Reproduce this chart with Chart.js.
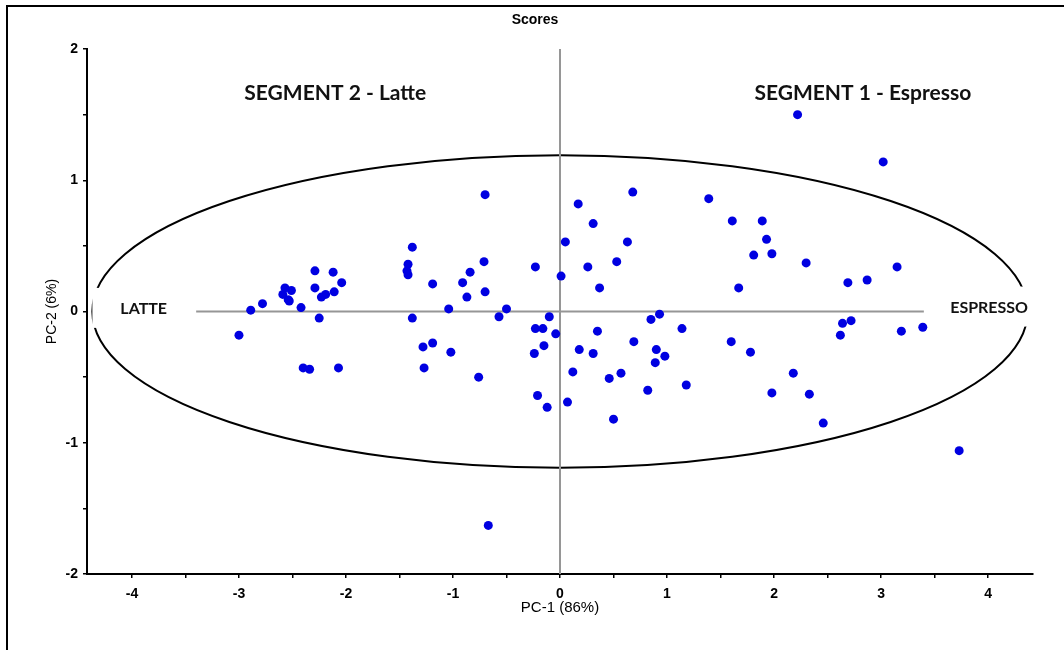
<!DOCTYPE html>
<html>
<head>
<meta charset="utf-8">
<title>Scores</title>
<script src="https://cdn.jsdelivr.net/npm/chart.js@4.4.1/dist/chart.umd.min.js"></script>
<style>
  html, body { margin: 0; padding: 0; background: #fff; }
  #wrap { position: relative; width: 1064px; height: 650px; }
</style>
</head>
<body>
<div id="wrap"><canvas id="chart" width="1064" height="650"></canvas></div>
<script>
// PCA scores, one entry per sample
const pcOne = [
  -3.00, -2.89, -2.78, -2.57, -2.51, -2.59, -2.54, -2.53, -2.42, -2.29, -2.29, -2.12, -2.04, -2.23, -2.19, -2.11, -2.25, -2.40, -2.34, -2.07,
  -1.38, -1.42, -1.43, -1.42, -1.38, -1.19, -1.28, -1.19, -1.27,
  -0.70, -0.91, -0.84, -0.87, -0.71, -0.70, -1.04, -0.50, -0.57, -0.23,
  0.01, 0.05, 0.17, 0.31, 0.68, 0.63, 0.26, 0.53, 0.37, 1.39, 1.61, 1.67,
  -0.10, -0.23, -0.16, -0.04, -0.15, -0.24, -1.02, -0.76,
  0.35, 0.18, 0.31, 0.69, 0.85, 0.93, 1.14, 0.90, 0.98, 0.89, 1.60,
  0.12, 0.46, 0.57, -0.21, -0.12, 0.07, 0.82, 1.18, 0.50, -0.67,
  2.22, 3.02, 1.89, 1.93, 1.81, 1.98, 2.30, 3.15, 2.69, 2.87, 2.64, 2.72, 2.62, 3.19, 3.39, 1.78, 2.18, 1.98, 2.33, 2.46, 3.73
];
const pcTwo = [
  -0.18, 0.01, 0.06, 0.18, 0.16, 0.13, 0.09, 0.08, 0.03, 0.31, 0.18, 0.30, 0.22, 0.11, 0.13, 0.15, -0.05, -0.43, -0.44, -0.43,
  0.49, 0.36, 0.31, 0.28, -0.05, 0.21, -0.27, -0.24, -0.43,
  0.89, 0.22, 0.30, 0.11, 0.38, 0.15, 0.02, 0.02, -0.04, 0.34,
  0.27, 0.53, 0.82, 0.67, 0.91, 0.53, 0.34, 0.38, 0.18, 0.86, 0.69, 0.18,
  -0.04, -0.13, -0.13, -0.17, -0.26, -0.32, -0.31, -0.50,
  -0.15, -0.29, -0.32, -0.23, -0.06, -0.02, -0.13, -0.29, -0.34, -0.39, -0.23,
  -0.46, -0.51, -0.47, -0.64, -0.73, -0.69, -0.60, -0.56, -0.82, -1.63,
  1.50, 1.14, 0.69, 0.55, 0.43, 0.44, 0.37, 0.34, 0.22, 0.24, -0.09, -0.07, -0.18, -0.15, -0.12, -0.31, -0.47, -0.62, -0.63, -0.85, -1.06
];

// axes
const xTicks = [-4, -3.5, -3, -2.5, -2, -1.5, -1, -0.5, 0, 0.5, 1, 1.5, 2, 2.5, 3, 3.5, 4];
const yTicks = [-2, -1.5, -1, -0.5, 0, 0.5, 1, 1.5, 2];
const xRange = [-4.42, 4.42];
const yRange = [-2, 2];

// reference lines and the segment ellipse (semi-axes in score units)
const hLineX = [-3.4, 3.4];
const vLineY = [-2, 2];
const ellipseAxes = [4.37, 1.19];

const chartTitle = 'Scores';
const segmentNames = ['SEGMENT 2 - Latte', 'SEGMENT 1 - Espresso'];
const poleNames = ['LATTE', 'ESPRESSO'];

const scorePoints = pcOne.map((v, i) => ({ x: v, y: pcTwo[i] }));

// ellipse, pole labels, segment labels, title and outer frame
const overlayPlugin = {
    id: 'overlay',
    beforeDatasetsDraw(chart) {
        const { ctx } = chart;
        const xs = chart.scales.x, ys = chart.scales.y;
        const cx = xs.getPixelForValue(0);
        const cy = ys.getPixelForValue(0);
        const rx = xs.getPixelForValue(ellipseAxes[0]) - cx;
        const ry = cy - ys.getPixelForValue(ellipseAxes[1]);

        ctx.save();
        ctx.beginPath();
        ctx.ellipse(cx, cy, rx, ry, 0, 0, Math.PI * 2);
        ctx.lineWidth = 2;
        ctx.strokeStyle = '#000';
        ctx.stroke();

        // the pole labels sit on white boxes that break the ellipse
        ctx.font = 'bold 16px Lato, "Liberation Sans", sans-serif';
        ctx.textAlign = 'center';
        ctx.textBaseline = 'middle';
        const poles = [[-3.89, 0.02, poleNames[0]], [4.01, 0.03, poleNames[1]]];
        poles.forEach(([px, py, txt]) => {
            const x = xs.getPixelForValue(px), y = ys.getPixelForValue(py);
            const w = ctx.measureText(txt).width;
            ctx.fillStyle = '#fff';
            ctx.fillRect(x - w / 2 - 28, y - 21, w + 56, 40);
            ctx.fillStyle = '#111';
            ctx.fillText(txt, x, y);
        });
        ctx.restore();
    },
    afterDraw(chart) {
        const { ctx } = chart;
        const xs = chart.scales.x, ys = chart.scales.y;
        ctx.save();

        ctx.font = 'bold 21px Lato, "Liberation Sans", sans-serif';
        ctx.fillStyle = '#111';
        ctx.textAlign = 'center';
        ctx.textBaseline = 'middle';
        ctx.fillText(segmentNames[0], xs.getPixelForValue(-2.10), ys.getPixelForValue(1.66));
        ctx.fillText(segmentNames[1], xs.getPixelForValue(2.83), ys.getPixelForValue(1.66));

        ctx.font = 'bold 14px "Liberation Sans", Arial, sans-serif';
        ctx.fillStyle = '#000';
        ctx.fillText(chartTitle, 535, 20);

        // outer frame (only top and left edges fall inside the picture)
        ctx.strokeStyle = '#000';
        ctx.lineWidth = 2;
        ctx.beginPath();
        ctx.moveTo(7, 660);
        ctx.lineTo(7, 6);
        ctx.lineTo(1070, 6);
        ctx.stroke();
        ctx.restore();
    }
};

const tickFont = { family: '"Liberation Sans Narrow", "Liberation Sans", Arial, sans-serif', size: 14, weight: 'bold' };

new Chart(document.getElementById('chart'), {
    type: 'scatter',
    data: {
        datasets: [
            {
                label: 'Scores',
                data: scorePoints,
                backgroundColor: 'rgb(0, 0, 225)',
                borderColor: 'rgb(0, 0, 225)',
                pointRadius: 4.5,
                pointBorderWidth: 0,
                order: 0
            },
            {
                label: 'PC-1 line',
                data: hLineX.map(v => ({ x: v, y: 0 })),
                showLine: true,
                borderColor: 'rgb(150, 150, 150)',
                borderWidth: 2,
                pointRadius: 0,
                order: 1
            },
            {
                label: 'PC-2 line',
                data: vLineY.map(v => ({ x: 0, y: v })),
                showLine: true,
                borderColor: 'rgb(150, 150, 150)',
                borderWidth: 2,
                pointRadius: 0,
                order: 1
            }
        ]
    },
    options: {
        responsive: false,
        animation: false,
        devicePixelRatio: 1,
        layout: { padding: { left: 0, top: 49, right: 31, bottom: 0 } },
        plugins: {
            legend: { display: false },
            tooltip: { enabled: false },
            title: { display: false }
        },
        scales: {
            x: {
                type: 'linear',
                min: xRange[0],
                max: xRange[1],
                afterBuildTicks: s => { s.ticks = xTicks.map(v => ({ value: v })); },
                afterFit: s => { s.height = 76; },
                ticks: {
                    autoSkip: false,
                    maxRotation: 0,
                    padding: 8,
                    color: '#000',
                    font: tickFont,
                    callback: v => Number.isInteger(v) ? String(v) : ''
                },
                grid: { drawOnChartArea: false, drawTicks: true, tickLength: 4, color: '#000', lineWidth: 1.5 },
                border: { display: true, color: '#000', width: 2 },
                title: {
                    display: true,
                    text: 'PC-1 (86%)',
                    color: '#000',
                    font: { family: '"Liberation Sans Narrow", "Liberation Sans", Arial, sans-serif', size: 15 },
                    padding: { top: 0, bottom: 33 }
                }
            },
            y: {
                type: 'linear',
                min: yRange[0],
                max: yRange[1],
                afterBuildTicks: s => { s.ticks = yTicks.map(v => ({ value: v })); },
                afterFit: s => { s.width = 87; },
                ticks: {
                    autoSkip: false,
                    padding: 5,
                    color: '#000',
                    font: { family: '"Liberation Sans", Arial, sans-serif', size: 14, weight: 'bold' },
                    callback: v => Number.isInteger(v) ? String(v) : ''
                },
                grid: { drawOnChartArea: false, drawTicks: true, tickLength: 4, color: '#000', lineWidth: 1.5 },
                border: { display: true, color: '#000', width: 2 },
                title: {
                    display: true,
                    text: 'PC-2 (6%)',
                    color: '#000',
                    font: { family: '"Liberation Sans", Arial, sans-serif', size: 14 },
                    padding: { top: 44, bottom: 0 }
                }
            }
        }
    },
    plugins: [overlayPlugin]
});
</script>
</body>
</html>
